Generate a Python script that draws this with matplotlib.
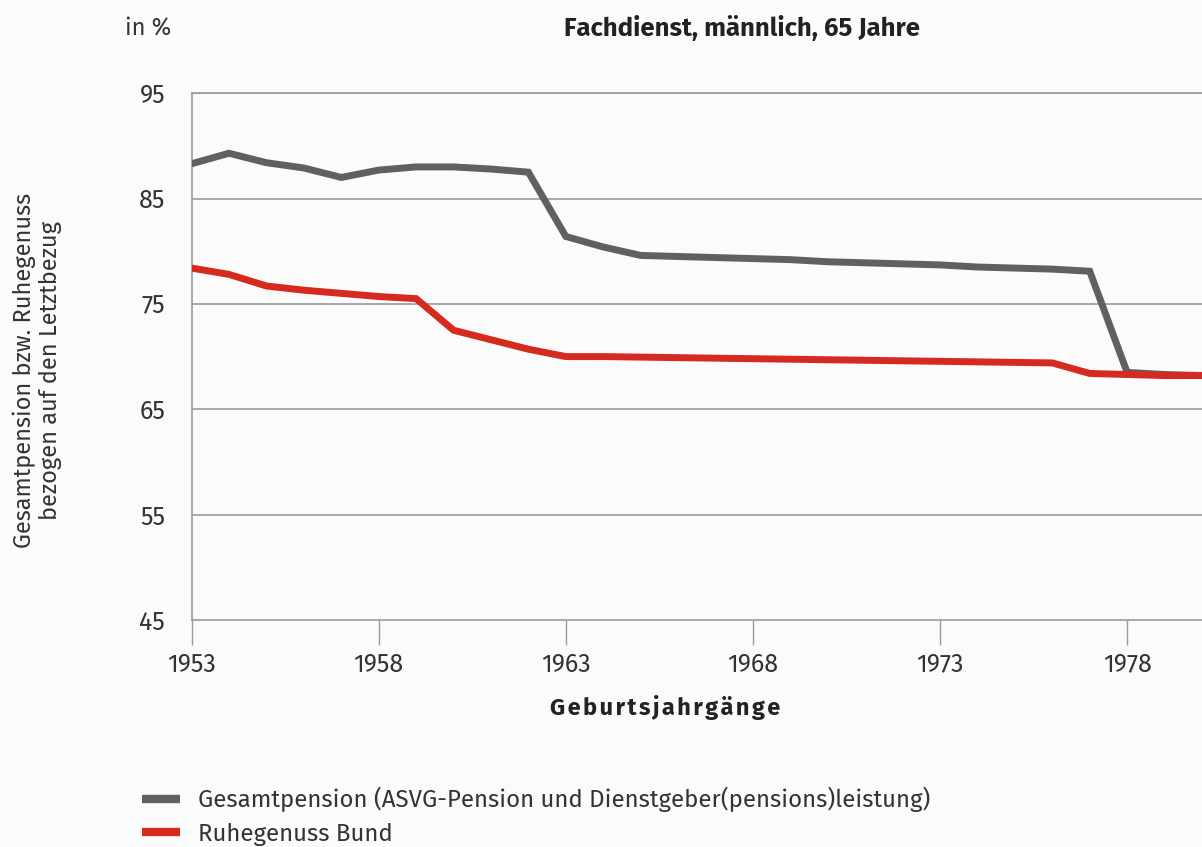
import matplotlib
matplotlib.use("Agg")
import matplotlib.pyplot as plt
from matplotlib.lines import Line2D

years = list(range(1953, 1981))

# Gesamtpension (ASVG-Pension und Dienstgeber(pensions)leistung), in %
gesamt = [88.3, 89.3, 88.4, 87.9, 87.0, 87.7, 88.0, 88.0, 87.8, 87.5,
          81.4, 80.4, 79.6, 79.5, 79.4, 79.3, 79.2, 79.0, 78.9, 78.8,
          78.7, 78.5, 78.4, 78.3, 78.1, 68.5, 68.3, 68.2]

# Ruhegenuss Bund, in %
bund = [78.4, 77.8, 76.7, 76.3, 76.0, 75.7, 75.5, 72.5, 71.6, 70.7,
        70.0, 70.0, 69.95, 69.9, 69.85, 69.8, 69.75, 69.7, 69.65, 69.6,
        69.55, 69.5, 69.45, 69.4, 68.4, 68.3, 68.2, 68.2]

series_labels = ["Gesamtpension (ASVG-Pension und Dienstgeber(pensions)leistung)",
                 "Ruhegenuss Bund"]
x_ticks = [1953, 1958, 1963, 1968, 1973, 1978]
y_ticks = [45, 55, 65, 75, 85, 95]

GRAY = "#5e625e"
RED = "#d62a1e"
TEXT = "#333333"
FRAME = "#9a9a9a"

plt.rcParams["font.family"] = ["Fira Sans", "Roboto", "DejaVu Sans"]

fig = plt.figure(figsize=(12.02, 8.47), dpi=100, facecolor="#fbfbfb")
ax = fig.add_axes([0.1594, 0.268, 0.8406, 0.622])
ax.set_facecolor("#fbfbfb")

ax.plot(years, gesamt, color=GRAY, linewidth=5, solid_joinstyle="miter", zorder=3)
ax.plot(years, bund, color=RED, linewidth=5, solid_joinstyle="miter", zorder=4)

ax.set_xlim(1953, 1980)
ax.set_ylim(45, 95)
ax.set_xticks(x_ticks)
ax.set_yticks(y_ticks)

for y in y_ticks[1:]:
    ax.axhline(y, color=FRAME, linewidth=1.2, zorder=1)

ax.spines["right"].set_visible(False)
for side in ["left", "bottom", "top"]:
    ax.spines[side].set_color(FRAME)
    ax.spines[side].set_linewidth(1.2)

ax.tick_params(axis="x", length=18, width=1, color=FRAME, pad=5,
               labelsize=18, labelcolor=TEXT)
ax.tick_params(axis="y", length=0, pad=19, labelsize=18, labelcolor=TEXT)

fig.text(0.104, 0.967, "in %", fontsize=17, color=TEXT, va="center")
fig.text(0.617, 0.967, "Fachdienst, männlich, 65 Jahre", fontsize=18.5,
         fontweight="bold", color="#222222", va="center", ha="center")
fig.text(0.031, 0.563, "Gesamtpension bzw. Ruhegenuss\nbezogen auf den Letztbezug",
         rotation=90, fontsize=17, color=TEXT, ha="center", va="center",
         linespacing=1.15)
fig.text(0.553, 0.165, "\u200a".join("Geburtsjahrgänge"), fontsize=17,
         fontweight="bold", color="#222222", ha="center", va="center")

handles = [Line2D([], [], color=GRAY, linewidth=6, solid_capstyle="butt"),
           Line2D([], [], color=RED, linewidth=6, solid_capstyle="butt")]
fig.legend(handles, series_labels, loc="upper left", bbox_to_anchor=(0.118, 0.071),
           frameon=False, fontsize=17.3, handlelength=1.6, handletextpad=0.75,
           labelspacing=0.42, borderpad=0, borderaxespad=0, labelcolor=TEXT)

fig.savefig("out.png", dpi=100, facecolor=fig.get_facecolor())
